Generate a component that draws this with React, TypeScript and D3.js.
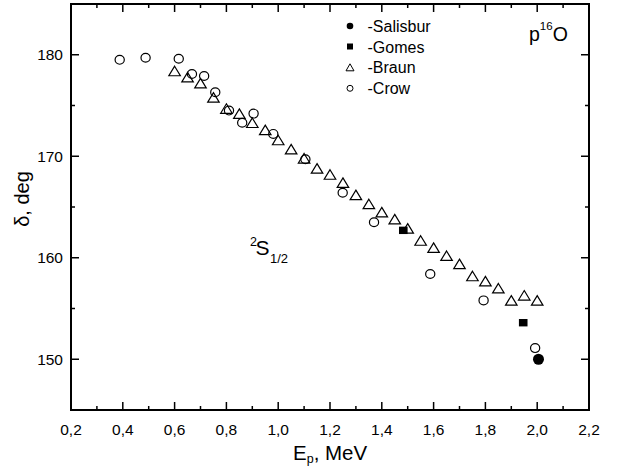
import React from 'react';
import * as d3 from 'd3';

// phase shift delta (deg) vs proton energy E_p (MeV)
const salisburyE = [2.005];
const salisburyD = [150.0];

const gomesE = [1.483, 1.946];
const gomesD = [162.7, 153.6];

const braunE = [0.6, 0.65, 0.7, 0.75, 0.8, 0.85, 0.9, 0.95, 1.0, 1.05, 1.1, 1.15, 1.2, 1.25, 1.3,
    1.35, 1.4, 1.45, 1.5, 1.55, 1.6, 1.65, 1.7, 1.75, 1.8, 1.85, 1.9, 1.95, 2.0];
const braunD = [178.4, 177.8, 177.2, 175.8, 174.7, 174.2, 173.3, 172.6, 171.6, 170.7, 169.8, 168.8, 168.2, 167.4, 166.2,
    165.3, 164.5, 163.8, 162.9, 161.7, 161.0, 160.2, 159.4, 158.2, 157.7, 157.0, 155.8, 156.3, 155.8];

const crowE = [0.388, 0.488, 0.616, 0.667, 0.714, 0.757, 0.81, 0.861, 0.905, 0.981, 1.105, 1.249, 1.37, 1.587, 1.793, 1.992];
const crowD = [179.5, 179.7, 179.6, 178.1, 177.9, 176.3, 174.5, 173.3, 174.2, 172.2, 169.7, 166.4, 163.5, 158.4, 155.8, 151.1];

const xMajor = [0.2, 0.4, 0.6, 0.8, 1.0, 1.2, 1.4, 1.6, 1.8, 2.0, 2.2];
const yMajor = [150, 160, 170, 180];
const legendNames = ['-Salisbur', '-Gomes', '-Braun', '-Crow'];

const W = 621;
const H = 466;
const left = 71, right = 589, top = 4, bottom = 410;
const font = 'Liberation Sans, Arial, Helvetica, sans-serif';

const locale = d3.formatLocale({ decimal: ',', thousands: '.', grouping: [3], currency: ['', ''] });
const fmt = locale.format('.1f');

const tri = (cx: number, cy: number, w: number, h: number) =>
    `M${cx},${cy - h / 2}L${cx + w / 2},${cy + h / 2}L${cx - w / 2},${cy + h / 2}Z`;

const App = () => {
    const x = d3.scaleLinear().domain([0.2, 2.2]).range([left, right]);
    const y = d3.scaleLinear().domain([145, 185]).range([bottom, top]);

    const xMinor = x.ticks(20);
    const yMinor = y.ticks(8);

    return (
        <svg width={W} height={H} style={{ position: 'absolute', left: 0, top: 0, background: '#fff' }}
            fontFamily={font}>
            <rect x={0} y={0} width={W} height={H} fill="#fff" />

            {/* ticks, inward on all four sides */}
            <g stroke="#000" strokeWidth={1.5}>
                {xMinor.map((t, i) => {
                    const len = xMajor.some(m => Math.abs(m - t) < 1e-6) ? 8 : 4;
                    return (
                        <g key={'xt' + i}>
                            <line x1={x(t)} x2={x(t)} y1={bottom} y2={bottom - len} />
                            <line x1={x(t)} x2={x(t)} y1={top} y2={top + len} />
                        </g>
                    );
                })}
                {yMinor.map((t, i) => {
                    const len = yMajor.includes(t) ? 8 : 4;
                    return (
                        <g key={'yt' + i}>
                            <line x1={left} x2={left + len} y1={y(t)} y2={y(t)} />
                            <line x1={right} x2={right - len} y1={y(t)} y2={y(t)} />
                        </g>
                    );
                })}
            </g>
            <rect x={left} y={top} width={right - left} height={bottom - top} fill="none" stroke="#000" strokeWidth={2} />

            {/* tick labels */}
            <g fontSize={15.5} fill="#000">
                {xMajor.map((t, i) => (
                    <text key={'xl' + i} x={x(t)} y={434.5} textAnchor="middle">{fmt(t)}</text>
                ))}
                {yMajor.map((t, i) => (
                    <text key={'yl' + i} x={63} y={y(t) + 5.5} textAnchor="end">{t}</text>
                ))}
            </g>

            {/* axis titles */}
            <text x={293} y={459.5} fontSize={20.5}>
                E<tspan fontSize={12.5} dy={3}>p</tspan><tspan dy={-3}>, MeV</tspan>
            </text>
            <text transform="translate(29,199) rotate(-90)" textAnchor="middle" fontSize={20}>δ, deg</text>

            {/* data */}
            <g fill="none" stroke="#000" strokeWidth={1.2}>
                {braunE.map((e, i) => (
                    <path key={'b' + i} d={tri(x(e), y(braunD[i]), 11.5, 9.5)} fill="#fff" />
                ))}
                {crowE.map((e, i) => (
                    <ellipse key={'c' + i} cx={x(e)} cy={y(crowD[i])} rx={4.6} ry={4.4} />
                ))}
            </g>
            <g fill="#000">
                {gomesE.map((e, i) => (
                    <rect key={'g' + i} x={x(e) - 4.3} y={y(gomesD[i]) - 3.7} width={8.6} height={7.4} />
                ))}
                {salisburyE.map((e, i) => (
                    <circle key={'s' + i} cx={x(e)} cy={y(salisburyD[i])} r={5.5} />
                ))}
            </g>

            {/* legend */}
            <g>
                <circle cx={350} cy={26} r={3.3} fill="#000" />
                <rect x={347} y={43.5} width={6} height={6} fill="#000" />
                <path d={tri(350, 67.3, 8, 7)} fill="none" stroke="#000" strokeWidth={1} />
                <circle cx={350} cy={88.3} r={3} fill="none" stroke="#000" strokeWidth={1} />
                {legendNames.map((n, i) => (
                    <text key={'ln' + i} x={367.5} y={31.7 + i * 20.8} fontSize={16}>{n}</text>
                ))}
            </g>

            {/* annotations */}
            <text x={529} y={40.7} fontSize={19.5}>
                p<tspan fontSize={11.5} dy={-11}>16</tspan><tspan dy={11}>O</tspan>
            </text>
            <text fontSize={21}>
                <tspan x={250} y={245.7} fontSize={12.5}>2</tspan>
                <tspan x={255.5} y={255}>S</tspan>
                <tspan x={270} y={262.5} fontSize={13}>1/2</tspan>
            </text>
        </svg>
    );
};

export default App;
